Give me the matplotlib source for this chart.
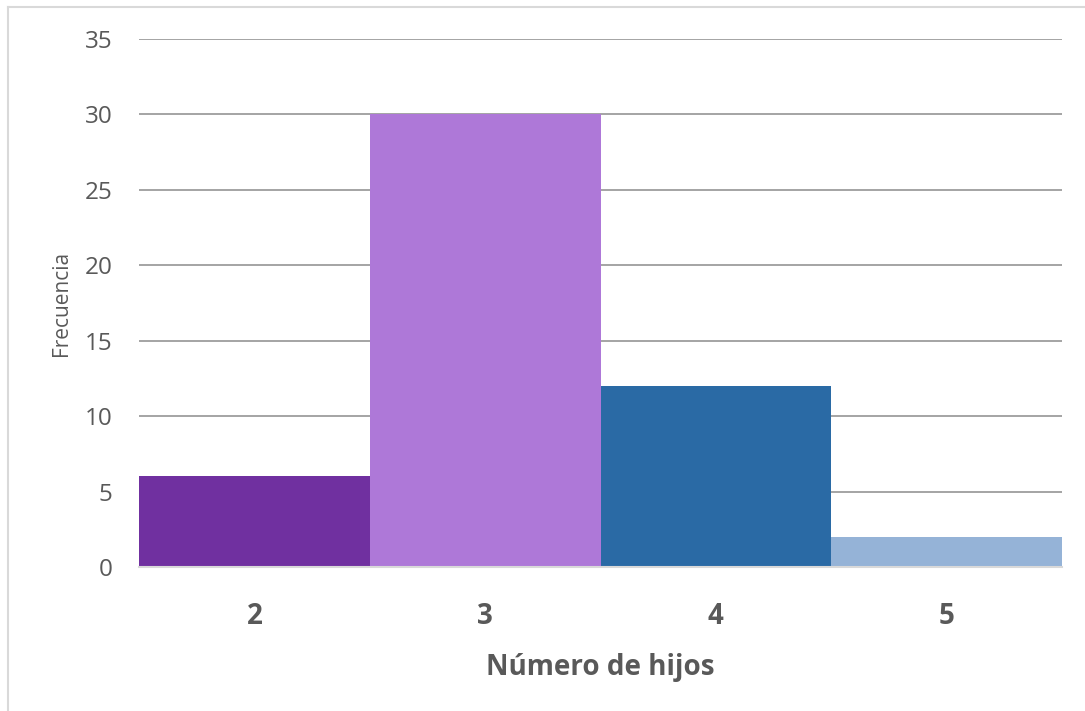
import matplotlib
matplotlib.use("Agg")
import matplotlib.pyplot as plt
from matplotlib.lines import Line2D

categories = ["2", "3", "4", "5"]
frequencies = [6, 30, 12, 2]
bar_colors = ["#7030A0", "#AE78D8", "#2A6AA5", "#95B3D7"]
y_ticks = [0, 5, 10, 15, 20, 25, 30, 35]

plt.rcParams["font.family"] = ["Open Sans", "DejaVu Sans"]
text_color = "#595959"

fig = plt.figure(figsize=(10.85, 7.11), dpi=100)
ax = fig.add_axes([139 / 1085, 144 / 711, 923 / 1085, 528 / 711])

x = range(len(categories))
ax.bar(x, frequencies, width=1.0, color=bar_colors, zorder=3)

ax.set_xlim(-0.5, len(categories) - 0.5)
ax.set_ylim(0, 35)
ax.set_yticks(y_ticks)
ax.set_xticks(list(x))
ax.set_xticklabels(categories, fontsize=20, fontweight="bold", color=text_color)
ax.tick_params(axis="y", labelsize=17.5, colors=text_color, length=0, pad=19)
ax.tick_params(axis="x", length=0, pad=25)

ax.yaxis.grid(True, color="#8C8C8C", linewidth=1.1, zorder=0)
ax.set_axisbelow(True)
for side in ["top", "right", "left"]:
    ax.spines[side].set_visible(False)
ax.spines["bottom"].set_color("#D9D9D9")
ax.spines["bottom"].set_linewidth(1.5)
ax.spines["bottom"].set_zorder(4)

ax.set_xlabel("Número de hijos", fontsize=20, fontweight="bold", color=text_color, labelpad=16)
ax.set_ylabel("Frecuencia", fontsize=15, color=text_color, labelpad=9)

# chart area border (top and left edges)
fig.add_artist(Line2D([8 / 1085, 8 / 1085], [0, 1 - 7 / 711], transform=fig.transFigure,
                      color="#D9D9D9", linewidth=1.5))
fig.add_artist(Line2D([8 / 1085, 1], [1 - 7 / 711, 1 - 7 / 711], transform=fig.transFigure,
                      color="#D9D9D9", linewidth=1.5))

fig.savefig("out.png", dpi=100)
